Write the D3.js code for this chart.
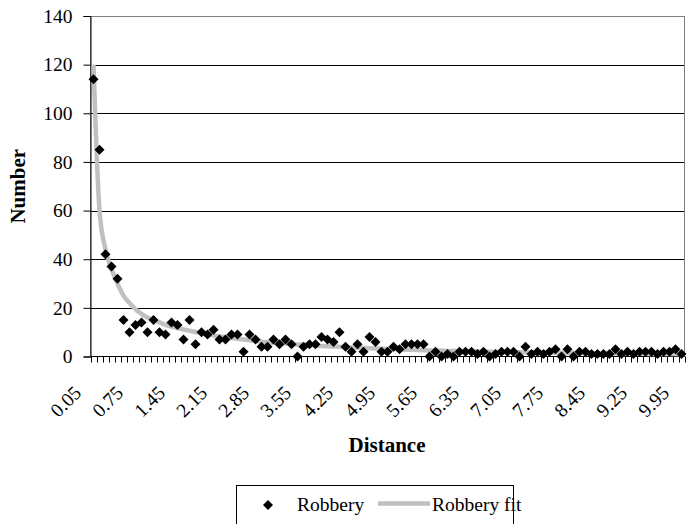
<!DOCTYPE html>
<html>
<head>
<meta charset="utf-8">
<script src="https://cdn.jsdelivr.net/npm/d3@7"></script>
<style>
  body { margin: 0; background: #fff; }
  text { font-family: "Liberation Serif", "Times New Roman", serif; }
</style>
</head>
<body>
<div id="chart"></div>
<script>
// distance categories (one category seems missing between 8.45 and 9.25)
const distances = [
  0.05, 0.15, 0.25, 0.35, 0.45, 0.55, 0.65, 0.75, 0.85, 0.95,
  1.05, 1.15, 1.25, 1.35, 1.45, 1.55, 1.65, 1.75, 1.85, 1.95,
  2.05, 2.15, 2.25, 2.35, 2.45, 2.55, 2.65, 2.75, 2.85, 2.95,
  3.05, 3.15, 3.25, 3.35, 3.45, 3.55, 3.65, 3.75, 3.85, 3.95,
  4.05, 4.15, 4.25, 4.35, 4.45, 4.55, 4.65, 4.75, 4.85, 4.95,
  5.05, 5.15, 5.25, 5.35, 5.45, 5.55, 5.65, 5.75, 5.85, 5.95,
  6.05, 6.15, 6.25, 6.35, 6.45, 6.55, 6.65, 6.75, 6.85, 6.95,
  7.05, 7.15, 7.25, 7.35, 7.45, 7.55, 7.65, 7.75, 7.85, 7.95,
  8.05, 8.15, 8.25, 8.35, 8.45, 8.55, 8.65, 8.75, 8.85, 9.05,
  9.15, 9.25, 9.35, 9.45, 9.55, 9.65, 9.75, 9.85, 9.95
];

const robbery = [
  114, 85, 42, 37, 32, 15, 10, 13, 14, 10,
  15, 10, 9, 14, 13, 7, 15, 5, 10, 9,
  11, 7, 7, 9, 9, 2, 9, 7, 4, 4,
  7, 5, 7, 5, 0, 4, 5, 5, 8, 7,
  6, 10, 4, 2, 5, 2, 8, 6, 2, 2,
  4, 3, 5, 5, 5, 5, 0, 2, 0, 1,
  0, 2, 2, 2, 1, 2, 0, 1, 2, 2,
  2, 0, 4, 1, 2, 1, 2, 3, 0, 3,
  0, 2, 2, 1, 1, 1, 1, 3, 1, 2,
  1, 2, 2, 2, 1, 2, 2, 3, 1
];

const robberyFit = [
  120, 60, 44, 36, 30, 25, 22, 19.5, 17.5, 16,
  15, 14, 13, 12.3, 11.7, 11.1, 10.6, 10.1, 9.6, 9.1,
  8.7, 8.3, 8.0, 7.6, 7.3, 7.0, 6.7, 6.4, 6.1, 5.9,
  5.7, 5.5, 5.3, 5.1, 4.9, 4.8, 4.6, 4.5, 4.3, 4.2,
  4.1, 4.0, 3.8, 3.7, 3.6, 3.5, 3.4, 3.3, 3.2, 3.1,
  3.0, 2.9, 2.8, 2.8, 2.7, 2.6, 2.5, 2.5, 2.4, 2.3,
  2.3, 2.2, 2.2, 2.1, 2.1, 2.0, 2.0, 1.9, 1.9, 1.8,
  1.8, 1.7, 1.7, 1.6, 1.6, 1.6, 1.5, 1.5, 1.5, 1.4,
  1.4, 1.4, 1.3, 1.3, 1.3, 1.2, 1.2, 1.2, 1.2, 1.1,
  1.1, 1.1, 1.1, 1.0, 1.0, 1.0, 1.0, 1.0, 0.9
];

const yTicks = [0, 20, 40, 60, 80, 100, 120, 140];

const width = 687, height = 524;
const plot = { left: 90.5, right: 684.5, top: 16, bottom: 356.5 };
const fontSize = 19.5;

const svg = d3.select("#chart")
  .append("svg")
  .attr("width", width)
  .attr("height", height);

const xScale = d3.scaleBand()
  .domain(d3.range(distances.length))
  .range([plot.left, plot.right])
  .padding(0);

const yScale = d3.scaleLinear()
  .domain([0, 140])
  .range([plot.bottom, plot.top]);

const cx = (i) => xScale(i) + xScale.bandwidth() / 2;

// gridlines
svg.append("g")
  .selectAll("line")
  .data(yTicks.slice(1, -1))
  .enter()
  .append("line")
  .attr("x1", plot.left)
  .attr("x2", plot.right)
  .attr("y1", (d) => Math.round(yScale(d)) + 0.5)
  .attr("y2", (d) => Math.round(yScale(d)) + 0.5)
  .attr("stroke", "#000")
  .attr("stroke-width", 1);

// plot border (top/right grey)
svg.append("rect")
  .attr("x", plot.left)
  .attr("y", plot.top + 0.5)
  .attr("width", plot.right - plot.left)
  .attr("height", plot.bottom - plot.top - 0.5)
  .attr("fill", "none")
  .attr("stroke", "#808080")
  .attr("stroke-width", 1);

// y axis
const yAxis = d3.axisLeft(yScale).tickValues(yTicks).tickSize(7).tickPadding(11);
svg.append("g")
  .attr("transform", "translate(" + plot.left + ",0)")
  .call(yAxis)
  .call((g) => g.select(".domain").attr("stroke", "#000"))
  .call((g) => g.selectAll("text")
    .attr("font-size", fontSize)
    .attr("fill", "#000")
    .style("font-family", "Liberation Serif"));

// x axis: ticks between categories
svg.append("line")
  .attr("x1", plot.left)
  .attr("x2", plot.right)
  .attr("y1", plot.bottom)
  .attr("y2", plot.bottom)
  .attr("stroke", "#000");

svg.append("g")
  .selectAll("line")
  .data(d3.range(distances.length + 1))
  .enter()
  .append("line")
  .attr("x1", (i) => Math.round(plot.left + i * xScale.bandwidth()) + 0.5)
  .attr("x2", (i) => Math.round(plot.left + i * xScale.bandwidth()) + 0.5)
  .attr("y1", plot.bottom)
  .attr("y2", plot.bottom + 6)
  .attr("stroke", "#000");

svg.append("g")
  .selectAll("text")
  .data(d3.range(0, distances.length, 7))
  .enter()
  .append("text")
  .attr("transform", (i) => "translate(" + (cx(i) - 11) + "," + (plot.bottom + 37.5) + ") rotate(-45)")
  .attr("text-anchor", "end")
  .attr("font-size", fontSize)
  .attr("fill", "#000")
  .text((i) => distances[i].toFixed(2));

// fit line
const line = d3.line()
  .x((d, i) => cx(i))
  .y((d) => yScale(d))
  .curve(d3.curveMonotoneX);

svg.append("path")
  .datum(robberyFit)
  .attr("d", line)
  .attr("fill", "none")
  .attr("stroke", "#c0c0c0")
  .attr("stroke-width", 4.5);

// robbery diamonds
const diamond = d3.symbol().type(d3.symbolSquare).size(50);
svg.append("g")
  .selectAll("path")
  .data(robbery)
  .enter()
  .append("path")
  .attr("d", diamond)
  .attr("transform", (d, i) => "translate(" + cx(i) + "," + yScale(d) + ") rotate(45)")
  .attr("fill", "#000");

// axis titles
svg.append("text")
  .attr("transform", "translate(25," + (plot.top + plot.bottom) / 2 + ") rotate(-90)")
  .attr("text-anchor", "middle")
  .attr("font-size", 21)
  .attr("font-weight", "bold")
  .text("Number");

svg.append("text")
  .attr("x", 387)
  .attr("y", 452)
  .attr("text-anchor", "middle")
  .attr("font-size", 21)
  .attr("font-weight", "bold")
  .text("Distance");

// legend
const legend = svg.append("g");
legend.append("rect")
  .attr("x", 236.5)
  .attr("y", 485.5)
  .attr("width", 277)
  .attr("height", 45)
  .attr("fill", "#fff")
  .attr("stroke", "#000");

legend.append("path")
  .attr("d", diamond)
  .attr("transform", "translate(268,505) rotate(45)")
  .attr("fill", "#000");

legend.append("text")
  .attr("x", 297)
  .attr("y", 511)
  .attr("font-size", fontSize)
  .text("Robbery");

legend.append("line")
  .attr("x1", 378)
  .attr("x2", 430)
  .attr("y1", 503.5)
  .attr("y2", 503.5)
  .attr("stroke", "#c0c0c0")
  .attr("stroke-width", 4.5);

legend.append("text")
  .attr("x", 432)
  .attr("y", 511)
  .attr("font-size", fontSize)
  .text("Robbery fit");
</script>
</body>
</html>
